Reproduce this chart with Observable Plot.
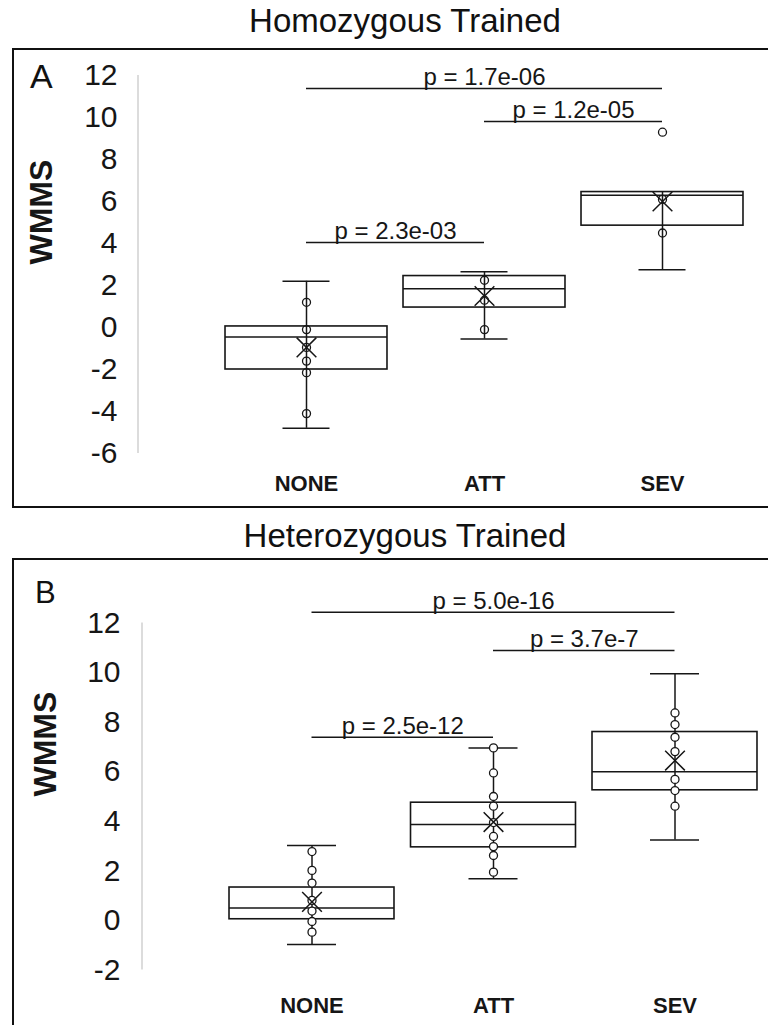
<!DOCTYPE html>
<html>
<head>
<meta charset="utf-8">
<script src="https://cdn.jsdelivr.net/npm/d3@7"></script>
<script src="https://cdn.jsdelivr.net/npm/@observablehq/plot@0.6"></script>
<style>
  html, body { margin: 0; padding: 0; background: #fff; }
  body { width: 768px; height: 1025px; overflow: hidden; position: relative; font-family: "Liberation Sans", Arial, sans-serif; color: #111; }
  .title { position: absolute; left: 405px; transform: translateX(-50%); white-space: nowrap; font-size: 33px; line-height: 33px; }
  .frame { position: absolute; left: 12px; width: 800px; box-sizing: border-box; border: 2px solid #111; pointer-events: none; }
  .letter { position: absolute; line-height: 1; white-space: nowrap; }
  .panel { position: absolute; left: 0; }
</style>
</head>
<body>
<div class="title" style="top:4px">Homozygous Trained</div>
<div class="panel" id="plotA" style="top:48px"></div>
<div class="frame" style="top:48px; height:460px"></div>
<div class="letter" style="left:30px; top:59px; font-size:34px; line-height:34px">A</div>

<div class="title" style="top:519px">Heterozygous Trained</div>
<div class="panel" id="plotB" style="top:558px"></div>
<div class="frame" style="top:558px; height:600px"></div>
<div class="letter" style="left:35px; top:577px; font-size:31px; line-height:31px">B</div>

<script>
// ---------- data ----------
const categories = ["NONE", "ATT", "SEV"];
const yTicksA = [-6, -4, -2, 0, 2, 4, 6, 8, 10, 12];
const yTicksB = [-2, 0, 2, 4, 6, 8, 10, 12];

// Panel A: Homozygous Trained
const homQ1 = [-2.0, 0.95, 4.85];
const homMedian = [-0.45, 1.85, 6.3];
const homQ3 = [0.05, 2.45, 6.45];
const homMin = [-4.8, -0.55, 2.75];
const homMax = [2.2, 2.65, 6.45];
const homMean = [-0.95, 1.5, 6.0];
const homPointsNone = [1.2, -0.1, -0.95, -1.6, -2.15, -4.1];
const homPointsAtt = [2.25, 1.3, -0.1];
const homPointsSev = [9.3, 6.1, 4.5];
const homSigFrom = ["NONE", "ATT", "NONE"];
const homSigTo = ["SEV", "SEV", "ATT"];
const homSigY = [11.38, 9.81, 4.05];
const homSigLabel = ["p = 1.7e-06", "p = 1.2e-05", "p = 2.3e-03"];

// Panel B: Heterozygous Trained
const hetQ1 = [0.05, 2.95, 5.25];
const hetMedian = [0.5, 3.87, 6.0];
const hetQ3 = [1.33, 4.75, 7.6];
const hetMin = [-0.97, 1.68, 3.25];
const hetMax = [3.02, 6.96, 9.95];
const hetMean = [0.75, 3.97, 6.45];
const hetPointsNone = [2.78, 2.02, 1.51, 0.81, 0.38, -0.04, -0.47];
const hetPointsAtt = [6.96, 5.95, 5.0, 4.61, 3.95, 3.39, 2.98, 2.62, 1.95];
const hetPointsSev = [8.37, 7.9, 7.39, 6.81, 5.69, 5.24, 4.61];
const hetSigFrom = ["NONE", "ATT", "NONE"];
const hetSigTo = ["SEV", "SEV", "ATT"];
const hetSigY = [12.43, 10.89, 7.39];
const hetSigLabel = ["p = 5.0e-16", "p = 3.7e-7", "p = 2.5e-12"];

// ---------- drawing ----------
const INK = "#161616";
const FONT = "'Liberation Sans', Arial, sans-serif";

function drawPanel(cfg) {
  const rows = categories.map((c, i) => ({
    cat: c, q1: cfg.q1[i], med: cfg.med[i], q3: cfg.q3[i],
    lo: cfg.lo[i], hi: cfg.hi[i], mean: cfg.mean[i]
  }));
  const pts = categories.flatMap((c, i) => cfg.points[i].map(v => ({cat: c, v})));
  const sig = cfg.sigLabel.map((t, i) => ({from: cfg.sigFrom[i], to: cfg.sigTo[i], y: cfg.sigY[i], label: t}));
  const idx = c => categories.indexOf(c);
  const n = categories.length;
  const step = (cfg.xRange[1] - cfg.xRange[0]) / (n - cfg.padInner + 2 * cfg.padOuter);
  const bw = step * (1 - cfg.padInner);
  const capInset = (bw - cfg.capWidth) / 2;
  const full = sig.filter(d => idx(d.to) - idx(d.from) === 2);
  const adj = sig.filter(d => idx(d.to) - idx(d.from) === 1);

  const chart = Plot.plot({
    width: 768,
    height: cfg.height,
    marginTop: cfg.marginTop,
    marginBottom: cfg.marginBottom,
    marginLeft: cfg.marginLeft,
    marginRight: 0,
    style: {fontFamily: FONT, color: INK, background: "transparent", overflow: "visible"},
    x: {domain: categories, range: cfg.xRange, paddingInner: cfg.padInner, paddingOuter: cfg.padOuter, round: false, label: null},
    y: {domain: cfg.yDomain, label: null},
    marks: [
      Plot.axisY({ticks: cfg.yTicks, tickSize: 0, tickPadding: cfg.yTickPad, fontSize: 30, tickFormat: d => String(d), fill: INK}),
      Plot.axisX({tickSize: 0, tickPadding: cfg.xTickPad, fontSize: 22, fontWeight: "bold", fill: INK}),
      // whiskers
      Plot.ruleX(rows, {x: "cat", y1: "lo", y2: "hi", stroke: INK, strokeWidth: 1.5}),
      Plot.tickY(rows, {x: "cat", y: "hi", insetLeft: capInset, insetRight: capInset, stroke: INK, strokeWidth: 1.5}),
      Plot.tickY(rows, {x: "cat", y: "lo", insetLeft: capInset, insetRight: capInset, stroke: INK, strokeWidth: 1.5}),
      // box
      Plot.barY(rows, {x: "cat", y1: "q1", y2: "q3", fill: "white", stroke: INK, strokeWidth: 1.6}),
      Plot.tickY(rows, {x: "cat", y: "med", stroke: INK, strokeWidth: 1.5}),
      Plot.ruleX(rows, {x: "cat", y1: "q1", y2: "q3", stroke: INK, strokeWidth: 1.5}),
      // points
      Plot.dot(pts, {x: "cat", y: "v", r: 4, stroke: INK, strokeWidth: 1.3, fill: cfg.dotFill}),
      // mean
      Plot.dot(rows, {x: "cat", y: "mean", symbol: "times", r: 9, stroke: INK, strokeWidth: 1.5}),
      // significance bars (band centre to band centre)
      Plot.ruleY(sig, {x1: "from", x2: "to", y: "y", insetLeft: bw / 2, insetRight: bw / 2, stroke: INK, strokeWidth: 1.5}),
      Plot.text(full, {x: d => categories[(idx(d.from) + idx(d.to)) / 2], y: "y", text: "label", fontSize: 24, dy: -11, fill: INK}),
      Plot.text(adj, {x: "from", y: "y", text: "label", fontSize: 24, dx: step / 2, dy: -11, fill: INK}),
      // y-axis title
      Plot.text(["WMMS"], {frameAnchor: "left", rotate: -90, dx: -97, fontSize: 32, fontWeight: "bold", fill: INK})
    ]
  });

  // light grey y-axis line positioned via the chart's y scale
  const y = chart.scale("y");
  d3.select(chart).insert("line", ":first-child")
    .attr("x1", cfg.marginLeft).attr("x2", cfg.marginLeft)
    .attr("y1", y.apply(cfg.yDomain[1])).attr("y2", y.apply(cfg.yDomain[0]))
    .attr("stroke", "#d4d4d4").attr("stroke-width", 1.6);
  return chart;
}

document.getElementById("plotA").appendChild(drawPanel({
  q1: homQ1, med: homMedian, q3: homQ3, lo: homMin, hi: homMax, mean: homMean,
  points: [homPointsNone, homPointsAtt, homPointsSev],
  sigFrom: homSigFrom, sigTo: homSigTo, sigY: homSigY, sigLabel: homSigLabel,
  yDomain: [-6, 12], yTicks: yTicksA,
  height: 460, marginTop: 27, marginBottom: 55, marginLeft: 138,
  xRange: [217, 751], padInner: 0.09, padOuter: 0.045, capWidth: 47,
  yTickPad: 21, xTickPad: 21.4, dotFill: "none"
}));

document.getElementById("plotB").appendChild(drawPanel({
  q1: hetQ1, med: hetMedian, q3: hetQ3, lo: hetMin, hi: hetMax, mean: hetMean,
  points: [hetPointsNone, hetPointsAtt, hetPointsSev],
  sigFrom: hetSigFrom, sigTo: hetSigTo, sigY: hetSigY, sigLabel: hetSigLabel,
  yDomain: [-2, 12], yTicks: yTicksB,
  height: 467, marginTop: 64.4, marginBottom: 55.4, marginLeft: 142,
  xRange: [220.75, 765.25], padInner: 0.091, padOuter: 0.0455, capWidth: 49,
  yTickPad: 22, xTickPad: 26.8, dotFill: "white"
}));
</script>
</body>
</html>
